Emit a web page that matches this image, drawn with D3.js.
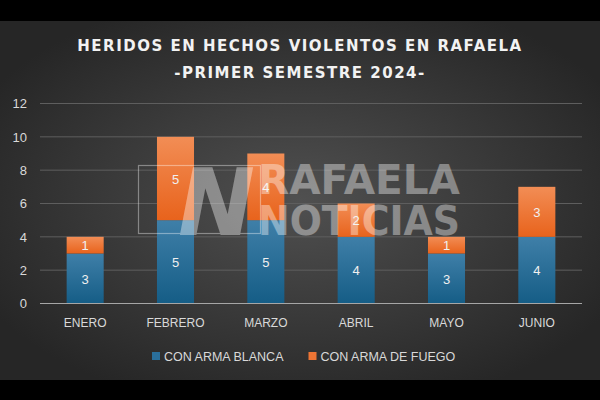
<!DOCTYPE html>
<html>
<head>
<meta charset="utf-8">
<script src="https://cdn.jsdelivr.net/npm/d3@7"></script>
<style>
  html, body { margin: 0; padding: 0; background: #000; }
  svg { display: block; }
</style>
</head>
<body>
<svg id="chart" width="600" height="400"></svg>
<script>
// data
const months = ["ENERO", "FEBRERO", "MARZO", "ABRIL", "MAYO", "JUNIO"];
const armaBlanca = [3, 5, 5, 4, 3, 4];
const armaFuego = [1, 5, 4, 2, 1, 3];
const seriesNames = ["CON ARMA BLANCA", "CON ARMA DE FUEGO"];
const yTicks = [0, 2, 4, 6, 8, 10, 12];
const titleLines = ["HERIDOS EN HECHOS VIOLENTOS EN RAFAELA", "-PRIMER SEMESTRE 2024-"];

const W = 600, H = 400;
const margin = { top: 103.5, right: 18, bottom: 96.5, left: 40 };
const svg = d3.select("#chart");
const font = "'Liberation Sans', Arial, sans-serif";

// background + gradients
const defs = svg.append("defs");
const bg = defs.append("radialGradient").attr("id", "bg")
  .attr("cx", "50%").attr("cy", "50%").attr("r", "60%");
bg.append("stop").attr("offset", "0%").attr("stop-color", "#505050");
bg.append("stop").attr("offset", "100%").attr("stop-color", "#262626");

function barGrad(id, top, bottom) {
  const g = defs.append("linearGradient").attr("id", id)
    .attr("x1", 0).attr("y1", 0).attr("x2", 0).attr("y2", 1);
  g.append("stop").attr("offset", "0%").attr("stop-color", top);
  g.append("stop").attr("offset", "100%").attr("stop-color", bottom);
}
barGrad("gBlue", "#3f7fa8", "#155d86");
barGrad("gOrange", "#f28d55", "#e8631c");
const fills = ["url(#gBlue)", "url(#gOrange)"];
const legendColors = ["#2a6f9b", "#ee7534"];

svg.append("rect").attr("width", W).attr("height", H).attr("fill", "#000");
svg.append("rect").attr("x", 0).attr("y", 21).attr("width", W).attr("height", 359)
  .attr("fill", "url(#bg)");

// title
svg.append("g").selectAll("text").data(titleLines).join("text")
  .attr("x", 300).attr("y", (d, i) => 51 + i * 27)
  .attr("text-anchor", "middle")
  .attr("fill", "#f2f2f2")
  .style("font-family", "'DejaVu Sans', sans-serif")
  .style("font-weight", "bold")
  .style("font-size", "15px")
  .style("letter-spacing", "1.5px")
  .text(d => d);

// scales
const x = d3.scaleBand().domain(months)
  .range([margin.left, W - margin.right]).paddingInner(0.59).paddingOuter(0.295);
const y = d3.scaleLinear().domain([0, 12]).range([H - margin.bottom, margin.top]);

// gridlines
svg.append("g").selectAll("line").data(yTicks.filter(t => t > 0)).join("line")
  .attr("x1", margin.left).attr("x2", W - margin.right)
  .attr("y1", d => y(d)).attr("y2", d => y(d))
  .attr("stroke", "#5e5e5e").attr("stroke-width", 1);

// y axis labels
const yAxis = svg.append("g").attr("transform", `translate(${margin.left - 13},0)`)
  .call(d3.axisLeft(y).tickValues(yTicks).tickSize(0).tickPadding(0));
yAxis.select(".domain").remove();
yAxis.selectAll("text").attr("fill", "#d9d9d9")
  .style("font-family", font).style("font-size", "13px");

// stacked data
const rows = months.map((m, i) => ({ month: m, blanca: armaBlanca[i], fuego: armaFuego[i] }));
const stack = d3.stack().keys(["blanca", "fuego"])(rows);

const layers = svg.append("g").selectAll("g").data(stack).join("g")
  .attr("fill", (d, i) => fills[i]);
layers.selectAll("rect").data(d => d).join("rect")
  .attr("x", d => x(d.data.month))
  .attr("width", x.bandwidth())
  .attr("y", d => y(d[1]))
  .attr("height", d => y(d[0]) - y(d[1]));

// value labels
layers.selectAll("text").data(d => d).join("text")
  .attr("x", d => x(d.data.month) + x.bandwidth() / 2)
  .attr("y", d => (y(d[0]) + y(d[1])) / 2 + 5)
  .attr("text-anchor", "middle")
  .attr("fill", "#f0f0f0")
  .style("font-family", font).style("font-size", "13px")
  .text(d => d[1] - d[0]);

// baseline
svg.append("line")
  .attr("x1", margin.left).attr("x2", W - margin.right)
  .attr("y1", y(0)).attr("y2", y(0))
  .attr("stroke", "#a6a6a6").attr("stroke-width", 1.2);

// x axis labels
const xAxis = svg.append("g").attr("transform", `translate(0,${y(0) + 15})`)
  .call(d3.axisBottom(x).tickSize(0).tickPadding(0));
xAxis.select(".domain").remove();
xAxis.selectAll("text").attr("fill", "#d9d9d9")
  .style("font-family", font).style("font-size", "12px").attr("dy", "0.71em");

// legend
const legendX = [152, 308.5];
const legend = svg.append("g").selectAll("g").data(seriesNames).join("g")
  .attr("transform", (d, i) => `translate(${legendX[i]},356)`);
legend.append("rect").attr("x", 0).attr("y", -4).attr("width", 8).attr("height", 8)
  .attr("fill", (d, i) => legendColors[i]);
legend.append("text").attr("x", 12).attr("y", 4.5)
  .attr("fill", "#d9d9d9")
  .style("font-family", font).style("font-size", "12.5px")
  .text(d => d);

// watermark
const wm = svg.append("g").attr("opacity", 0.38).style("pointer-events", "none");
wm.append("rect").attr("x", 138.5).attr("y", 165.5).attr("width", 122).attr("height", 68)
  .attr("fill", "none").attr("stroke", "#ffffff").attr("stroke-width", 1.2);
wm.append("text").attr("x", 178).attr("y", 235)
  .attr("fill", "#ffffff")
  .style("font-family", "'DejaVu Sans', sans-serif").style("font-weight", "bold")
  .style("font-size", "92px").style("font-style", "italic")
  .text("N");
wm.selectAll("text.wm").data(["RAFAELA", "NOTICIAS"]).join("text")
  .attr("class", "wm")
  .attr("x", 258).attr("y", (d, i) => 194 + i * 41)
  .attr("fill", "#ffffff")
  .style("font-family", "'DejaVu Sans', sans-serif").style("font-weight", "bold")
  .style("font-size", "40px")
  .attr("textLength", 202).attr("lengthAdjust", "spacingAndGlyphs")
  .text(d => d);
</script>
</body>
</html>
